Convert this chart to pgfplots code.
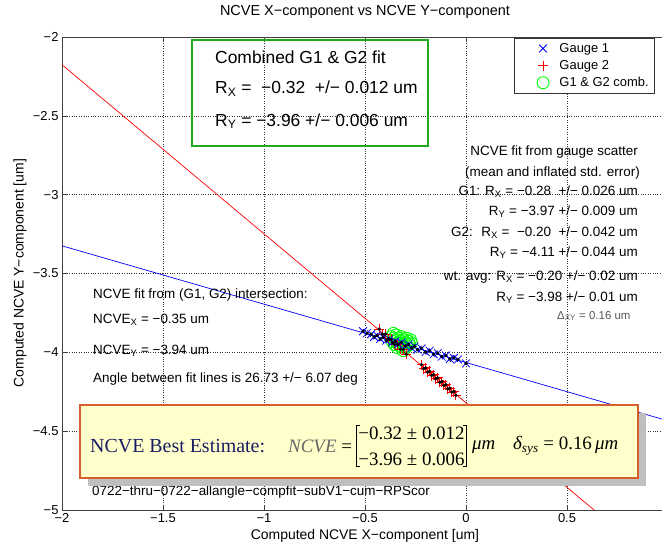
\documentclass[border=0pt]{standalone}
\usepackage{pgfplots}
\pgfplotsset{compat=1.18}
\usepackage{fontspec}
\setmainfont{Liberation Sans}
\newfontfamily\timesfont{Liberation Serif}
\definecolor{gboxc}{RGB}{30,170,30}
\definecolor{ybox}{RGB}{255,255,204}
\definecolor{obox}{RGB}{215,95,45}
\definecolor{navy}{RGB}{25,30,100}
\definecolor{mblue}{RGB}{0,0,255}
\definecolor{mred}{RGB}{255,0,0}
\definecolor{mgreen}{RGB}{0,255,0}
\newcommand\fs[1]{\fontsize{#1}{#1}\selectfont}
\pgfplotsset{mylegimg/.style={legend image code/.code={\path (0bp,-5bp) (38bp,5bp); \draw[##1] plot coordinates {(24bp,0bp)};}}}

\begin{document}
\begin{tikzpicture}
\path[use as bounding box] (-62bp,-36bp) rectangle (600bp,510bp);
\begin{axis}[
 at={(0,0)}, anchor=south west, scale only axis,
 width=606bp, height=473bp,
 xmin=-2, xmax=1, ymin=-5, ymax=-2,
 xtick={-2,-1.5,-1,-0.5,0,0.5,1},
 xticklabels={−2,−1.5,−1,−0.5,0,0.5,},
 ytick={-5,-4.5,-4,-3.5,-3,-2.5,-2},
 yticklabels={−5,−4.5,−4,−3.5,−3,−2.5,−2},
 tick label style={font=\fs{13}},
 grid=major, major grid style={black!80, dotted, line width=0.5bp},
 axis line style={black!75, line width=0.6bp},
 tick style={black!75, line width=0.6bp}, major tick length=5bp,
 tick align=inside,
 legend style={at={(0.9786,0.998)}, anchor=north east, draw=black!80, fill=white, line width=0.6bp, font=\fs{13}, row sep=2.5bp, inner xsep=4bp, inner ysep=3bp},
 legend cell align=left,
]
\addlegendimage{only marks, mark=x, color=mblue, mark options={draw=mblue}, mark size=5.5bp, line width=0.8bp, mylegimg}
\addlegendentry{Gauge 1}
\addlegendimage{legend image code/.code={\path (0bp,-5bp) (38bp,5bp); \draw[draw=mred, line width=0.9bp] (19bp,0bp) -- (29bp,0bp) (24bp,-5bp) -- (24bp,5bp);}}
\addlegendentry{Gauge 2}
\addlegendimage{only marks, mark=o, color=mgreen, mark options={draw=mgreen}, mark size=6bp, line width=0.9bp, mylegimg}
\addlegendentry{G1 \& G2 comb.}

% G1 & G2 combined
\addplot[only marks, mark=o, color=mgreen, mark options={draw=mgreen}, mark size=6bp, line width=0.9bp, forget plot] coordinates {
(-0.37,-3.90) (-0.365,-3.93) (-0.36,-3.91) (-0.355,-3.95) (-0.35,-3.92) (-0.345,-3.89)
(-0.34,-3.94) (-0.335,-3.91) (-0.33,-3.96) (-0.325,-3.93) (-0.32,-3.90) (-0.315,-3.95)
(-0.31,-3.92) (-0.305,-3.97) (-0.30,-3.94) (-0.295,-3.91) (-0.29,-3.96) (-0.285,-3.93)
(-0.28,-3.95) (-0.275,-3.92) (-0.31,-3.99) (-0.34,-3.97) (-0.36,-3.88) (-0.27,-3.94)};
% Gauge 2
\addplot[only marks, mark=+, color=mred, mark options={draw=mred}, mark size=5bp, line width=0.9bp, forget plot] coordinates {
(-0.43,-3.852) (-0.415,-3.884) (-0.40,-3.885) (-0.385,-3.915) (-0.37,-3.918) (-0.355,-3.948)
(-0.34,-3.950) (-0.325,-3.980) (-0.31,-3.982) (-0.295,-4.012)
(-0.22,-4.078) (-0.21,-4.104) (-0.20,-4.098) (-0.19,-4.126) (-0.18,-4.120) (-0.17,-4.147)
(-0.16,-4.141) (-0.15,-4.168) (-0.14,-4.162) (-0.13,-4.190) (-0.12,-4.185) (-0.11,-4.210)
(-0.10,-4.205) (-0.09,-4.232) (-0.08,-4.228) (-0.07,-4.252) (-0.06,-4.249) (-0.05,-4.272)};
% Gauge 1
\addplot[only marks, mark=x, color=mblue, mark options={draw=mblue}, mark size=5.5bp, line width=0.8bp, forget plot] coordinates {
(-0.51,-3.866) (-0.49,-3.878) (-0.47,-3.885) (-0.455,-3.902) (-0.44,-3.893) (-0.425,-3.915)
(-0.41,-3.905) (-0.395,-3.926) (-0.38,-3.918) (-0.365,-3.937) (-0.35,-3.930) (-0.335,-3.948)
(-0.32,-3.938) (-0.30,-3.960) (-0.285,-3.950) (-0.27,-3.972) (-0.255,-3.962) (-0.24,-3.983)
(-0.22,-3.975) (-0.20,-3.998) (-0.18,-3.990) (-0.16,-4.012) (-0.14,-4.005) (-0.12,-4.027)
(-0.10,-4.020) (-0.08,-4.042) (-0.06,-4.035) (-0.04,-4.045) (0.00,-4.070)};
% black centre dots
\addplot[only marks, mark=*, black, mark size=1.5bp, forget plot] coordinates {
(-0.51,-3.866) (-0.49,-3.878) (-0.47,-3.885) (-0.455,-3.902) (-0.44,-3.893) (-0.425,-3.915)
(-0.41,-3.905) (-0.395,-3.926) (-0.38,-3.918) (-0.365,-3.937) (-0.35,-3.930) (-0.335,-3.948)
(-0.32,-3.938) (-0.30,-3.960) (-0.285,-3.950) (-0.27,-3.972) (-0.255,-3.962) (-0.24,-3.983)
(-0.22,-3.975) (-0.20,-3.998) (-0.18,-3.990) (-0.16,-4.012) (-0.14,-4.005) (-0.12,-4.027)
(-0.10,-4.020) (-0.08,-4.042) (-0.06,-4.035) (-0.04,-4.045) (0.00,-4.070)};
\addplot[only marks, mark=*, black, mark size=1.5bp, forget plot] coordinates {
(-0.43,-3.852) (-0.415,-3.884) (-0.40,-3.885) (-0.385,-3.915) (-0.37,-3.918) (-0.355,-3.948)
(-0.34,-3.950) (-0.325,-3.980) (-0.31,-3.982) (-0.295,-4.012)
(-0.22,-4.078) (-0.21,-4.104) (-0.20,-4.098) (-0.19,-4.126) (-0.18,-4.120) (-0.17,-4.147)
(-0.16,-4.141) (-0.15,-4.168) (-0.14,-4.162) (-0.13,-4.190) (-0.12,-4.185) (-0.11,-4.210)
(-0.10,-4.205) (-0.09,-4.232) (-0.08,-4.228) (-0.07,-4.252) (-0.06,-4.249) (-0.05,-4.272)};
% fit lines
\addplot[color=mred, line width=0.7bp, forget plot] coordinates {(-2,-2.176) (0.634,-5)};
\addplot[color=mblue, line width=0.7bp, forget plot] coordinates {(-2,-3.3245) (1,-4.4345)};
\end{axis}

\begin{scope}[x=1bp,y=1bp]
% title and labels
\node[font=\fs{14.5}] at (303,498) {NCVE X−component vs NCVE Y−component};
\node[font=\fs{14}] at (303,-26) {Computed NCVE X−component [um]};
\node[font=\fs{14}, rotate=90] at (-42,237) {Computed NCVE Y−component [um]};

% green box
\draw[gboxc, line width=1.6bp] (130,470) rectangle (366,364);
\node[anchor=base west, inner sep=0, font=\fs{17.5}] at (153,446) {Combined G1 \& G2 fit};
\node[anchor=base west, inner sep=0, font=\fs{17.5}] at (153,416) {R\textsubscript{X} =~ −0.32 ~+/− 0.012 um};
\node[anchor=base west, inner sep=0, font=\fs{17.5}] at (153,384) {R\textsubscript{Y} = −3.96 +/− 0.006 um};

% right annotation
\begin{scope}[every node/.style={anchor=base east, inner sep=0, font=\fs{13.5}}]
\node at (576,355) {NCVE fit from gauge scatter};
\node at (578,334) {(mean and inflated std. error)};
\node at (576,315) {G1: R\textsubscript{X} = −0.28 ~+/− 0.026 um};
\node at (576,295) {R\textsubscript{Y} = −3.97 +/− 0.009 um};
\node at (576,274) {G2: ~R\textsubscript{X} = ~−0.20 ~+/− 0.042 um};
\node at (576,254) {R\textsubscript{Y} = −4.11 +/− 0.044 um};
\node at (576,230) {wt. avg: R\textsubscript{X} = −0.20 +/− 0.02 um};
\node at (576,209) {R\textsubscript{Y} = −3.98 +/− 0.01 um};
\end{scope}
\node[anchor=base west, inner sep=0, font=\fs{11.5}, text=black!65] at (495,191) {Δ\textsubscript{XY} = 0.16 um};

% left annotation
\begin{scope}[every node/.style={anchor=base west, inner sep=0, font=\fs{13.5}}]
\node at (31,212) {NCVE fit from (G1, G2) intersection:};
\node at (31,187) {NCVE\textsubscript{X} = −0.35 um};
\node at (31,156) {NCVE\textsubscript{Y} = −3.94 um};
\node at (31,128) {Angle between fit lines is 26.73 +/− 6.07 deg};
\node at (30,15) {0722−thru−0722−allangle−compfit−subV1−cum−RPScor};
\end{scope}

% best estimate box
\fill[black!25] (26,97) rectangle (584,24);
\filldraw[fill=ybox, draw=obox, line width=1.6bp] (18,105) rectangle (576,32);
\node[anchor=west, inner sep=0, font=\timesfont\fs{20}, text=navy] at (28,64) {NCVE Best Estimate:};
\node[anchor=west, inner sep=0, font=\timesfont\fs{19}] (ncve) at (226,64) {\textcolor{black!60}{\itshape NCVE} =};
\node[anchor=west, inner xsep=2bp, inner ysep=1bp, font=\timesfont\fs{19}, align=center] (M) at ([xshift=4bp]ncve.east) {−0.32 ± 0.012\\[7bp]−3.96 ± 0.006};
\draw[line width=0.8bp] ([xshift=4bp]M.north west) -- (M.north west) -- (M.south west) -- ++(4bp,0);
\draw[line width=0.8bp] ([xshift=-4bp]M.north east) -- (M.north east) -- (M.south east) -- ++(-4bp,0);
\node[anchor=west, inner sep=0, font=\timesfont\fs{19}] at ([xshift=5bp]M.east) {{\itshape μm}\hspace{18bp}{\itshape δ}\textsubscript{\itshape sys} = 0.16\,{\itshape μm}};
\end{scope}
\end{tikzpicture}
\end{document}
